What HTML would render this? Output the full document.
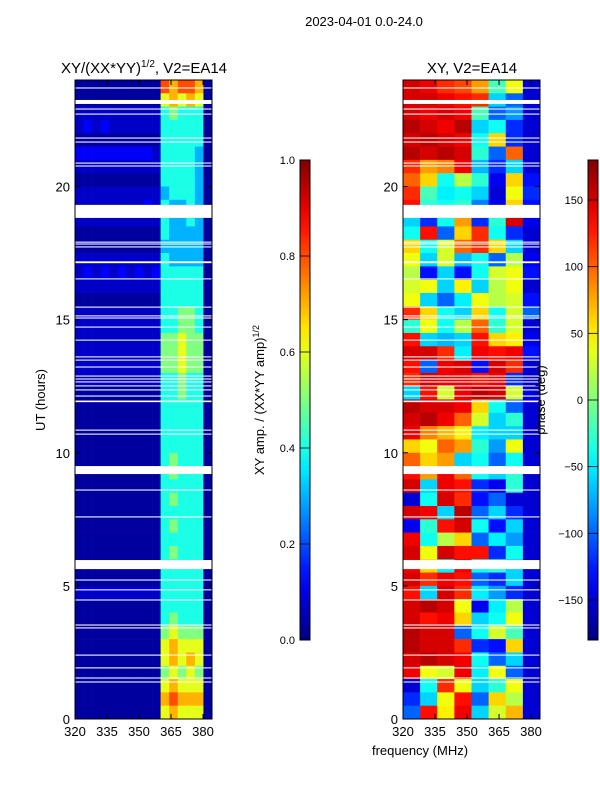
<!DOCTYPE html>
<html><head><meta charset="utf-8"><style>
html,body{margin:0;padding:0;background:#fff;width:600px;height:800px;overflow:hidden}
svg{display:block;font-family:"Liberation Sans",sans-serif}
</style></head><body>
<svg id="fig" width="600" height="800" viewBox="0 0 600 800">
<text x="364" y="26" font-size="13" text-anchor="middle">2023-04-01 0.0-24.0</text>
<text x="144" y="73" font-size="15" text-anchor="middle">XY/(XX*YY)<tspan font-size="10" dy="-6">1/2</tspan><tspan dy="6">, V2=EA14</tspan></text>
<text x="472" y="73" font-size="15" text-anchor="middle">XY, V2=EA14</text>
<g id="ampPanel"></g>
<g id="phPanel"></g>
<g id="axes"></g>
<text transform="translate(45,400) rotate(-90)" font-size="13" text-anchor="middle">UT (hours)</text>
<text transform="translate(264,400) rotate(-90)" font-size="13" text-anchor="middle">XY amp. / (XX*YY amp)<tspan font-size="9" dy="-5">1/2</tspan></text>
<text transform="translate(545,400) rotate(-90)" font-size="13" text-anchor="middle">phase (deg)</text>
<text x="420" y="755" font-size="13" text-anchor="middle">frequency (MHz)</text>
<defs><linearGradient id="jet" x1="0" y1="1" x2="0" y2="0"></linearGradient></defs>
<g id="cbars"></g>
</svg>
<script>
const freqTicks=[320,335,350,365,380];
const utTicks=[0,5,10,15,20];
const ampTicks=[0.0,0.2,0.4,0.6,0.8,1.0];
const phaseTicks=[-150,-100,-50,0,50,100,150];
const gaps=[[23.68,23.72],[23.10,23.25],[22.89,22.93],[22.70,22.74],[21.80,21.84],[21.65,21.69],[20.86,20.90],[20.75,20.79],[18.82,19.31],[17.89,17.93],[17.82,17.86],[17.71,17.75],[17.12,17.19],[16.51,16.55],[15.45,15.49],[15.12,15.16],[15.04,15.08],[14.70,14.74],[14.21,14.25],[13.58,13.62],[13.46,13.50],[13.20,13.24],[12.86,12.90],[12.75,12.79],[12.64,12.68],[12.49,12.53],[12.34,12.38],[12.11,12.15],[11.90,11.96],[10.83,10.87],[10.68,10.72],[9.20,9.50],[8.58,8.62],[7.57,7.61],[5.63,5.97],[5.20,5.24],[4.83,4.87],[4.45,4.49],[3.51,3.55],[3.40,3.44],[2.38,2.42],[1.90,1.94],[1.52,1.56],[1.37,1.41]];
// amplitude rows, top (23.5-24h) to bottom (0-0.5h), 16 cols of 4 MHz, digit = tenths
const ampRows=["0000000000878870","0000000000676760","1111111111454440","1212111111444440","0000000000444440","2222222221444430","1111111111444430","0000000000444430","1111111111344430","1111111121433430","1111111111433430","0000000000433330","0000000000333330","1111111111433330","1212121212444440","1111111111444440","0000000000444440","1111111111445540","1111111111445540","1111111111556550","1111111111556550","1111111111556550","1111111111445440","0000000000445440","0000000000444440","0000000000444440","0000000000444440","0000000000444440","0000000000454440","0000000000454440","0000000000444440","0000000000454440","0000000000444440","0000000000454440","0000000000444440","0000000000454440","0000000000444440","0000000000444440","1111111111444440","0000000000444440","0000000000454440","0000000000565550","0000000000676660","0000000000676760","0000000000565650","0000000000676660","0000000000787770","0000000000676660"];
// phase rows (deg), top to bottom, 8 cols of 8 MHz
const phaseRows=[[150,140,120,110,80,-20,40,-150],[150,150,140,130,120,-60,-100,-150],[150,140,150,140,-20,-100,-80,-150],[160,150,140,160,-60,-40,-120,-150],[150,160,150,140,-40,60,-120,-150],[160,150,160,150,-30,-100,100,-150],[120,80,90,140,-70,-120,-60,-150],[100,60,-40,20,-30,-140,60,-130],[120,-20,-50,-40,-60,-150,40,-120],[130,-30,-40,-30,-90,-140,60,-130],[-60,-120,-40,80,-120,-30,150,-140],[-40,130,-100,60,120,-40,-120,-150],[60,-40,30,100,120,60,-60,-150],[40,-60,30,-70,-40,-100,20,-140],[20,-130,-60,-130,-40,30,40,-130],[30,40,-60,50,-60,20,40,-150],[40,-60,-100,-50,40,20,30,-130],[120,60,-40,-60,60,-40,30,-100],[-30,40,-40,20,100,-30,30,-150],[130,-60,-70,-60,130,60,50,-140],[150,150,120,-50,140,130,140,-130],[130,-100,140,150,-130,150,120,-150],[120,150,140,140,130,140,-120,-150],[-60,130,30,140,160,150,30,-140],[160,150,150,140,60,-40,-100,-150],[150,160,140,100,30,-60,-30,-150],[140,90,70,50,-50,-60,-60,-150],[60,40,100,80,-30,-80,40,-150],[100,60,80,-60,-40,-100,-40,-150],[130,80,140,100,-40,-60,-30,-150],[150,-60,140,130,-120,-140,-30,-150],[-150,-40,150,120,-130,-100,-150,-150],[150,140,-60,160,-100,-60,-120,-150],[-140,-30,130,150,-40,-130,-60,-150],[140,-40,20,60,-100,-50,-80,-150],[150,40,150,130,130,-120,-40,-150],[140,60,-50,140,-40,-30,-60,-150],[150,120,140,130,-100,-120,-60,-150],[130,-60,150,120,-50,-80,-120,-150],[150,160,150,40,-140,-50,20,-150],[150,130,140,60,-60,-40,40,-150],[160,150,150,-100,-40,30,-20,-150],[160,150,150,120,-120,-130,60,-150],[150,160,150,140,-40,-100,-60,-150],[140,40,30,140,-50,40,-100,-150],[-150,-40,120,40,-60,-30,40,-150],[-120,-60,40,130,-100,60,20,-150],[-100,130,50,140,-60,30,70,-150]];

const NS='http://www.w3.org/2000/svg';
function mk(t,a,p){const e=document.createElementNS(NS,t);for(const k in a)e.setAttribute(k,a[k]);p.appendChild(e);return e;}
function jet(t){t=Math.max(0,Math.min(1,t));const c=v=>Math.round(255*Math.max(0,Math.min(1,1.5-Math.abs(4*t-v))));return `rgb(${c(3)},${c(2)},${c(1)})`;}
const F0=320,F1=384.2,U0=0,U1=24;
const panels=[{x0:75,x1:212},{x0:403,x1:540}];
const yT=80,yB=719;
function sx(p,f){return p.x0+(f-F0)/(F1-F0)*(p.x1-p.x0);}
function sy(u){return yB-(u-U0)/(U1-U0)*(yB-yT);}

function drawGrid(g,p,rows,ncol,val){
  const nr=rows.length,df=(F1-F0)/ncol,du=24/nr;
  rows.forEach((row,ri)=>{
    const u1=24-ri*du,u0=u1-du;
    for(let c=0;c<ncol;c++){
      const f0=F0+c*df;
      const r=mk('rect',{x:sx(p,f0),y:sy(u1),width:sx(p,f0+df)-sx(p,f0)+0.3,height:sy(u0)-sy(u1)+0.3,fill:jet(val(row,c))},g);
      
      
    }
  });
  gaps.forEach(gp=>{
    const r=mk('rect',{x:p.x0,y:sy(gp[1]),width:p.x1-p.x0,height:Math.max(1,sy(gp[0])-sy(gp[1])),fill:'#fff'},g);
    
    
  });
}
drawGrid(document.getElementById('ampPanel'),panels[0],ampRows,16,(row,c)=>{const d=+row[c];return d===0?0.03:(d===1?0.07:(d===2?0.12:d/10));});
drawGrid(document.getElementById('phPanel'),panels[1],phaseRows,8,(row,c)=>(row[c]+180)/360);

const ax=document.getElementById('axes');
panels.forEach((p,pi)=>{
  const fr=mk('rect',{x:p.x0,y:yT,width:p.x1-p.x0,height:yB-yT,fill:'none',stroke:'#000','stroke-width':1},ax);
  
  
  freqTicks.forEach(f=>{
    const x=sx(p,f);
    mk('line',{x1:x,y1:yB,x2:x,y2:yB-5,stroke:'#000'},ax);
    mk('line',{x1:x,y1:yT,x2:x,y2:yT+5,stroke:'#000'},ax);
    const t=mk('text',{x:x,y:yB+17,'font-size':13,'text-anchor':'middle'},ax);t.textContent=f;
    
    
  });
  utTicks.forEach(u=>{
    const y=sy(u);
    mk('line',{x1:p.x0,y1:y,x2:p.x0+5,y2:y,stroke:'#000'},ax);
    mk('line',{x1:p.x1,y1:y,x2:p.x1-5,y2:y,stroke:'#000'},ax);
    const t=mk('text',{x:p.x0-5,y:y+5,'font-size':13,'text-anchor':'end'},ax);t.textContent=u;
    
    
  });
});

const grad=document.getElementById('jet');
for(let i=0;i<=20;i++){mk('stop',{offset:(i/20),'stop-color':jet(i/20)},grad);}
const cb=document.getElementById('cbars');
const cbs=[{x:300,ticks:ampTicks,lo:0,hi:1,fmt:v=>v.toFixed(1)},{x:588,ticks:phaseTicks,lo:-180,hi:180,fmt:v=>v<0?'\u2212'+(-v):''+v}];
cbs.forEach((c,ci)=>{
  const r=mk('rect',{x:c.x,y:160,width:10,height:480,fill:'url(#jet)',stroke:'#000','stroke-width':1},cb);
  
  
  c.ticks.forEach(v=>{
    const y=640-(v-c.lo)/(c.hi-c.lo)*480;
    mk('line',{x1:c.x,y1:y,x2:c.x+10,y2:y,stroke:'#000','stroke-width':0.8},cb);
    const t=mk('text',{x:c.x-5,y:y+4,'font-size':11,'text-anchor':'end'},cb);t.textContent=c.fmt(v);
    
    
  });
});
</script>
</body></html>
